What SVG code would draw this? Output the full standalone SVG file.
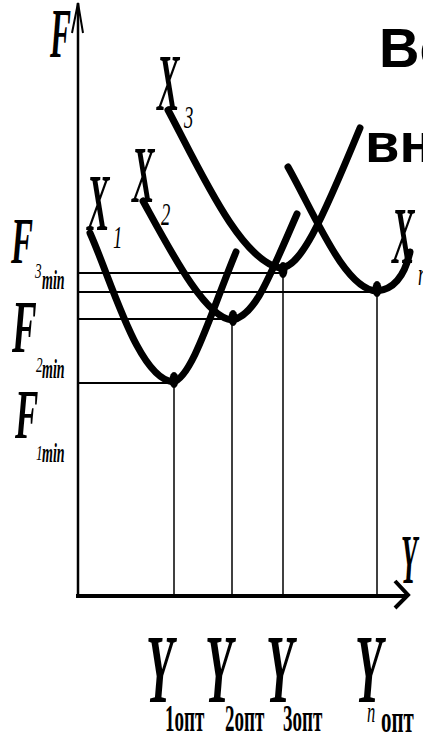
<svg xmlns="http://www.w3.org/2000/svg" width="423" height="739" viewBox="0 0 423 739">
<style>
.ax{stroke:#000;fill:none}
.cv{stroke:#000;stroke-width:7;fill:none;stroke-linecap:round;stroke-linejoin:round}
.hl{stroke:#000;stroke-width:2}
.vl{stroke:#000;stroke-width:1.5}
.it{font-family:"Liberation Serif",serif;font-style:italic;fill:#000}
.bd{font-family:"Liberation Serif",serif;font-weight:bold;fill:#000}
.bi{font-family:"Liberation Serif",serif;font-weight:bold;font-style:italic;fill:#000}
.sans{font-family:"Liberation Sans",Arial,sans-serif;font-weight:bold;font-size:56px;fill:#000}
</style>
<g id="connectors">
  <line class="ax" x1="78" y1="3" x2="78" y2="597" stroke-width="2.5"/>
  <polyline class="ax" points="72,33 78,3 83,33" stroke-width="2"/>
  <line class="ax" x1="76" y1="596" x2="406" y2="596" stroke-width="4"/>
  <polyline class="ax" points="395,581 408,595 395,608" stroke-width="4"/>
  <line class="hl" x1="78" y1="273" x2="283" y2="273"/>
  <line class="hl" x1="78" y1="292" x2="377" y2="292"/>
  <line class="hl" x1="78" y1="319" x2="232" y2="319"/>
  <line class="hl" x1="78" y1="383" x2="174" y2="383"/>
  <line class="vl" x1="174" y1="382" x2="174" y2="596"/>
  <line class="vl" x1="232" y1="320" x2="232" y2="596"/>
  <line class="vl" x1="283" y1="272" x2="283" y2="596"/>
  <line class="vl" x1="377" y1="292" x2="377" y2="596"/>
</g>
<g id="curve1">
  <path class="cv" d="M90,233 C112,282 138,378 173,382 C192,378 212,310 236,252"/>
  <ellipse cx="174" cy="380" rx="4.5" ry="8"/>
</g>
<g id="curve2">
  <path class="cv" d="M143,201 C170,250 205,318 232,320 C255,316 268,280 297,214"/>
  <ellipse cx="233" cy="318" rx="4.5" ry="8"/>
</g>
<g id="curve3">
  <path class="cv" d="M168,110 C200,170 240,260 280,268 C300,268 320,225 360,128"/>
  <ellipse cx="283" cy="270" rx="4.5" ry="8"/>
</g>
<g id="curvean">
  <path class="cv" d="M288,167 C315,215 345,290 377,291 C398,289 406,270 410,252"/>
  <ellipse cx="377" cy="289" rx="4.5" ry="8"/>
</g>
<g id="labels">
  <text class="bi" font-size="70" transform="translate(50,57) scale(0.45,1)">F</text>
  <text class="bi" font-size="80" transform="translate(87,230) scale(0.42,1)">X</text>
  <text class="it" font-size="31" transform="translate(113,248) scale(0.6,1)">1</text>
  <text class="bi" font-size="80" transform="translate(132,202) scale(0.42,1)">X</text>
  <text class="it" font-size="31" transform="translate(161,225) scale(0.6,1)">2</text>
  <text class="bi" font-size="80" transform="translate(157,110) scale(0.42,1)">X</text>
  <text class="it" font-size="31" transform="translate(184,128) scale(0.6,1)">3</text>
  <text class="bi" font-size="80" transform="translate(392,263) scale(0.42,1)">X</text>
  <text class="it" font-size="31" transform="translate(418,285) scale(0.6,1)">n</text>
  <text class="bi" font-size="66" transform="translate(11,263) scale(0.5,1)">F</text>
  <text class="it" font-size="22" transform="translate(35,278) scale(0.6,1)">3</text>
  <text class="bi" font-size="28" transform="translate(42,289) scale(0.5,1)">min</text>
  <text class="bi" font-size="74" transform="translate(12,352) scale(0.5,1)">F</text>
  <text class="it" font-size="22" transform="translate(36,372) scale(0.6,1)">2</text>
  <text class="bi" font-size="28" transform="translate(42,378) scale(0.5,1)">min</text>
  <text class="bi" font-size="70" transform="translate(15,438) scale(0.5,1)">F</text>
  <text class="it" font-size="22" transform="translate(36,460) scale(0.6,1)">1</text>
  <text class="bi" font-size="28" transform="translate(42,462) scale(0.5,1)">min</text>
  <text class="bi" font-size="70" transform="translate(401,583) scale(0.38,1)">Y</text>
  <text class="bi" font-size="98" transform="translate(146,702) scale(0.46,1)">Y</text>
  <text class="bd" font-size="38" transform="translate(165,731) scale(0.5,1)">1опт</text>
  <text class="bi" font-size="98" transform="translate(205,702) scale(0.46,1)">Y</text>
  <text class="bd" font-size="38" transform="translate(225,731) scale(0.5,1)">2опт</text>
  <text class="bi" font-size="98" transform="translate(266,702) scale(0.46,1)">Y</text>
  <text class="bd" font-size="38" transform="translate(283,731) scale(0.5,1)">3опт</text>
  <text class="bi" font-size="98" transform="translate(355,702) scale(0.46,1)">Y</text>
  <text class="it" font-size="30" transform="translate(367,722) scale(0.55,1)">n</text>
  <text class="bd" font-size="38" transform="translate(381,732) scale(0.55,1)">опт</text>
  <text class="sans" x="379" y="67">Ве</text>
  <text class="sans" x="365" y="162">вн</text>
</g>
</svg>
